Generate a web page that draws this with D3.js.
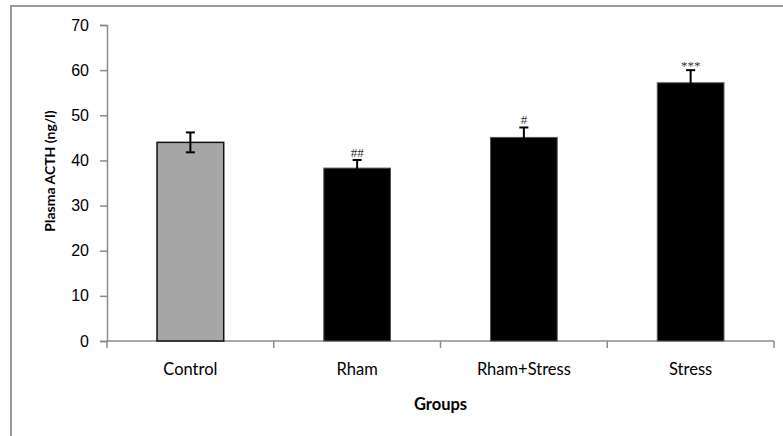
<!DOCTYPE html>
<html>
<head>
<meta charset="utf-8">
<script src="https://cdn.jsdelivr.net/npm/d3@7"></script>
<style>
  html, body { margin: 0; padding: 0; background: #fff; }
  svg { display: block; }
</style>
</head>
<body>
<svg id="chart" width="783" height="436"></svg>
<script>
// Plasma ACTH per group (mean ± SEM)
const groups = ["Control", "Rham", "Rham+Stress", "Stress"];
const acth = [44.0, 38.3, 45.1, 57.2];
const sem = [2.2, 1.8, 2.2, 2.8];
const marks = ["", "##", "#", "***"];
const fills = ["#a6a6a6", "#000000", "#000000", "#000000"];
const yTicks = [0, 10, 20, 30, 40, 50, 60, 70];

const svg = d3.select("#chart");

// outer frame (right and bottom edges run past the page)
svg.append("rect")
  .attr("x", 11).attr("y", 6)
  .attr("width", 900).attr("height", 600)
  .attr("fill", "none")
  .attr("stroke", "#9a9a9a")
  .attr("stroke-width", 2);

const plot = { left: 107, right: 774, top: 25, bottom: 341 };

const x = d3.scaleBand()
  .domain(groups)
  .range([plot.left, plot.right])
  .padding(0);

const y = d3.scaleLinear()
  .domain([0, 70])
  .range([plot.bottom, plot.top]);

const barW = x.bandwidth() * 0.4;

// y axis
const yAxis = svg.append("g")
  .attr("transform", `translate(${plot.left},0)`)
  .call(d3.axisLeft(y).tickValues(yTicks).tickSize(7).tickPadding(11).tickFormat(d3.format("d")));
yAxis.select(".domain").attr("stroke", "#8c8c8c").attr("stroke-width", 1.5);
yAxis.selectAll(".tick line").attr("stroke", "#8c8c8c").attr("stroke-width", 1.5);
yAxis.selectAll(".tick text")
  .attr("fill", "#000")
  .style("font-family", "Liberation Sans, Arial, sans-serif")
  .style("font-size", "16px");

// x axis: ticks sit on category boundaries
const xAxisG = svg.append("g").attr("transform", `translate(0,${plot.bottom})`);
xAxisG.append("line")
  .attr("x1", plot.left).attr("x2", plot.right)
  .attr("y1", 0).attr("y2", 0)
  .attr("stroke", "#8c8c8c").attr("stroke-width", 1.5);
const boundaries = groups.map(g => x(g)).concat([x(groups[groups.length - 1]) + x.bandwidth()]);
xAxisG.selectAll("line.tk")
  .data(boundaries)
  .join("line")
  .attr("class", "tk")
  .attr("x1", d => d).attr("x2", d => d)
  .attr("y1", 0).attr("y2", 7)
  .attr("stroke", "#8c8c8c").attr("stroke-width", 1.5);
xAxisG.selectAll("text.cat")
  .data(groups)
  .join("text")
  .attr("class", "cat")
  .attr("x", d => x(d) + x.bandwidth() / 2)
  .attr("y", 34)
  .attr("text-anchor", "middle")
  .style("font-family", "Lato, 'Open Sans', sans-serif")
  .style("font-size", "16.5px")
  .attr("fill", "#000")
  .text(d => d);

// bars
const rows = groups.map((g, i) => ({ g, v: acth[i], e: sem[i], m: marks[i], f: fills[i] }));
svg.append("g").selectAll("rect")
  .data(rows)
  .join("rect")
  .attr("x", d => x(d.g) + x.bandwidth() / 2 - barW / 2)
  .attr("y", d => y(d.v))
  .attr("width", barW)
  .attr("height", d => y(0) - y(d.v))
  .attr("fill", d => d.f)
  .attr("stroke", d => d.f === "#000000" ? "#555" : "#111")
  .attr("stroke-width", d => d.f === "#000000" ? 1 : 1.5);

// error bars
const eb = svg.append("g").attr("stroke", "#000").attr("stroke-width", 2);
rows.forEach(d => {
  const cx = x(d.g) + x.bandwidth() / 2;
  eb.append("line").attr("x1", cx).attr("x2", cx).attr("y1", y(d.v + d.e)).attr("y2", y(d.v - d.e));
  eb.append("line").attr("x1", cx - 4.5).attr("x2", cx + 4.5).attr("y1", y(d.v + d.e)).attr("y2", y(d.v + d.e));
  eb.append("line").attr("x1", cx - 4.5).attr("x2", cx + 4.5).attr("y1", y(d.v - d.e)).attr("y2", y(d.v - d.e));
});

// significance marks
svg.append("g").selectAll("text")
  .data(rows.filter(d => d.m))
  .join("text")
  .attr("x", d => x(d.g) + x.bandwidth() / 2)
  .attr("y", d => y(d.v + d.e) - (d.m.startsWith("*") ? 0 : 3))
  .attr("text-anchor", "middle")
  .style("font-family", "Liberation Serif, 'Times New Roman', serif")
  .style("font-size", "13px")
  .attr("fill", "#333")
  .text(d => d.m);

// axis titles
svg.append("text")
  .attr("transform", "translate(55,171) rotate(-90)")
  .attr("text-anchor", "middle")
  .style("font-family", "Lato, 'Open Sans', sans-serif")
  .style("font-size", "14px")
  .style("font-weight", "bold")
  .text("Plasma ACTH (ng/l)");

svg.append("text")
  .attr("x", (plot.left + plot.right) / 2)
  .attr("y", 410)
  .attr("text-anchor", "middle")
  .style("font-family", "Lato, 'Open Sans', sans-serif")
  .style("font-size", "16.5px")
  .style("font-weight", "bold")
  .text("Groups");
</script>
</body>
</html>
